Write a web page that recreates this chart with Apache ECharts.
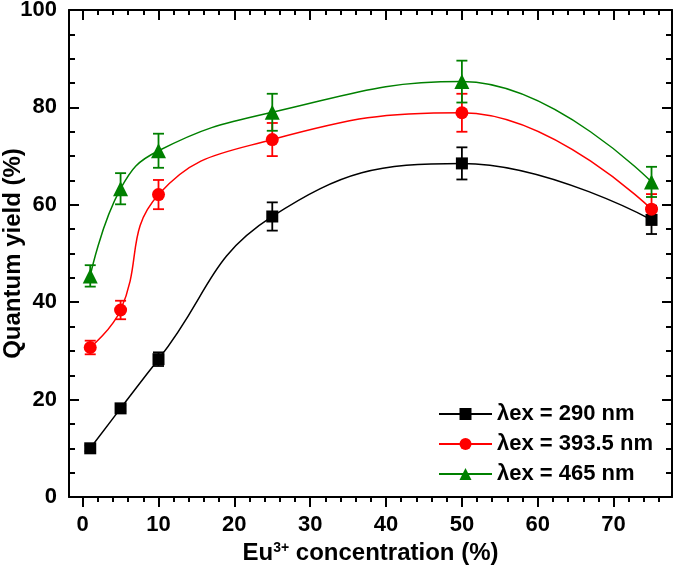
<!DOCTYPE html>
<html>
<head>
<meta charset="utf-8">
<script src="https://cdn.jsdelivr.net/npm/echarts@6/dist/echarts.min.js"></script>
<style>
html,body{margin:0;padding:0;background:#fff;}
#chart{width:675px;height:574px;}
</style>
</head>
<body>
<div id="chart"></div>
<script>
// ---- data ----
const concentration = [1, 5, 10, 25, 50, 75];
const seriesNames = ['λex = 290 nm', 'λex = 393.5 nm', 'λex = 465 nm'];
const qy290 = [10.0, 18.2, 28.3, 57.6, 68.5, 56.9];
const err290 = [0.6, 0.6, 1.4, 2.9, 3.3, 2.9];
const qy393 = [30.7, 38.4, 62.1, 73.4, 78.9, 59.1];
const err393 = [1.4, 1.9, 3.0, 3.4, 3.9, 3.1];
const qy465 = [45.4, 63.3, 71.1, 79.0, 85.3, 64.7];
const err465 = [2.2, 3.2, 3.5, 3.8, 4.3, 3.1];
const colors = ['#000000', '#ff0000', '#008000'];
const symbols = ['rect', 'circle', 'triangle'];
const symbolSizes = [12, 13, 15];
const xMajorTicks = [0, 10, 20, 30, 40, 50, 60, 70];
const xMinorTicks = [2,4,6,8,12,14,16,18,22,24,26,28,32,34,36,38,42,44,46,48,52,54,56,58,62,64,66,68,72,74,76];

const FONT = '"Liberation Sans", Arial, sans-serif';
const values = [qy290, qy393, qy465];
const errs = [err290, err393, err465];

const xMin = -1.8, xMax = 77.7;
function xAxisBase(pos, ticks, len, inside, showLabel, showLine) {
  return {
    type: 'value', position: pos, min: xMin, max: xMax,
    axisLine: {show: showLine, onZero: false, lineStyle: {color: '#000', width: 2}},
    axisTick: {show: true, customValues: ticks, length: len, inside: inside, lineStyle: {color: '#000', width: 2}},
    axisLabel: showLabel ? {show: true, customValues: ticks, margin: 17, color: '#000', fontSize: 22, fontWeight: 'bold', fontFamily: FONT} : {show: false},
    splitLine: {show: false}
  };
}

const xAxes = [
  Object.assign(xAxisBase('bottom', xMajorTicks, 10, false, true, true), {
    name: '{a|Eu}{s|3+}{a| concentration (%)}',
    nameLocation: 'middle', nameGap: 44, nameMoveOverlap: false,
    nameTextStyle: {rich: {
      a: {fontSize: 24, fontWeight: 'bold', fontFamily: FONT, color: '#000'},
      s: {fontSize: 14, fontWeight: 'bold', fontFamily: FONT, color: '#000', verticalAlign: 'top', padding: [0,0,11,0]}
    }}
  }),
  xAxisBase('bottom', xMinorTicks, 5, false, false, false),
  xAxisBase('top', xMajorTicks, 10, true, false, true),
  xAxisBase('top', xMinorTicks, 5, true, false, false)
];

function yAxisBase(pos, showLabel) {
  return {
    type: 'value', position: pos, min: 0, max: 100, interval: 20,
    axisLine: {show: true, onZero: false, lineStyle: {color: '#000', width: 2}},
    axisTick: {show: true, inside: true, length: 10, lineStyle: {color: '#000', width: 2}},
    minorTick: {show: true, splitNumber: 4, length: 6, lineStyle: {color: '#000', width: 2}},
    axisLabel: showLabel ? {show: true, margin: 12, color: '#000', fontSize: 22, fontWeight: 'bold', fontFamily: FONT} : {show: false},
    splitLine: {show: false}, minorSplitLine: {show: false}
  };
}
const yAxes = [
  Object.assign(yAxisBase('left', true), {
    name: 'Quantum yield (%)', nameLocation: 'middle', nameGap: 44, nameMoveOverlap: false,
    nameTextStyle: {fontSize: 24, fontWeight: 'bold', fontFamily: FONT, color: '#000'}
  }),
  yAxisBase('right', false)
];

const series = [];
// error bars
values.forEach((vals, i) => {
  series.push({
    type: 'custom', name: 'err' + i, xAxisIndex: 0, yAxisIndex: 0, z: 2,
    data: concentration.map((x, j) => [x, vals[j] - errs[i][j], vals[j] + errs[i][j]]),
    renderItem: function (params, api) {
      const lo = api.coord([api.value(0), api.value(1)]);
      const hi = api.coord([api.value(0), api.value(2)]);
      const hw = 5.5;
      const st = {stroke: colors[i], lineWidth: 1.8};
      return {type: 'group', children: [
        {type: 'line', shape: {x1: lo[0], y1: lo[1], x2: hi[0], y2: hi[1]}, style: st},
        {type: 'line', shape: {x1: lo[0]-hw, y1: lo[1], x2: lo[0]+hw, y2: lo[1]}, style: st},
        {type: 'line', shape: {x1: hi[0]-hw, y1: hi[1], x2: hi[0]+hw, y2: hi[1]}, style: st}
      ]};
    },
    silent: true
  });
});
values.forEach((vals, i) => {
  series.push({
    type: 'line', name: seriesNames[i], xAxisIndex: 0, yAxisIndex: 0, z: 3,
    data: concentration.map((x, j) => [x, vals[j]]),
    smooth: 0.45,
    symbol: symbols[i], symbolSize: symbolSizes[i],
    showAllSymbol: true,
    lineStyle: {color: colors[i], width: 1.5},
    itemStyle: {color: colors[i], borderWidth: 0},
    emphasis: {disabled: true},
    animation: false
  });
});

const chart = echarts.init(document.getElementById('chart'), null, {renderer: 'canvas'});
chart.setOption({
  animation: false,
  backgroundColor: '#fff',
  grid: {left: 69, right: 3, top: 10, bottom: 77, containLabel: false, outerBoundsMode: 'none'},
  xAxis: xAxes,
  yAxis: yAxes,
  legend: {
    data: seriesNames,
    orient: 'vertical', left: 438, top: 403, padding: 0,
    itemWidth: 53, itemHeight: 15, itemGap: 8,
    textStyle: {fontSize: 22, fontWeight: 'bold', fontFamily: FONT, color: '#000', lineHeight: 22},
    selectedMode: false
  },
  series: series
});
</script>
</body>
</html>
